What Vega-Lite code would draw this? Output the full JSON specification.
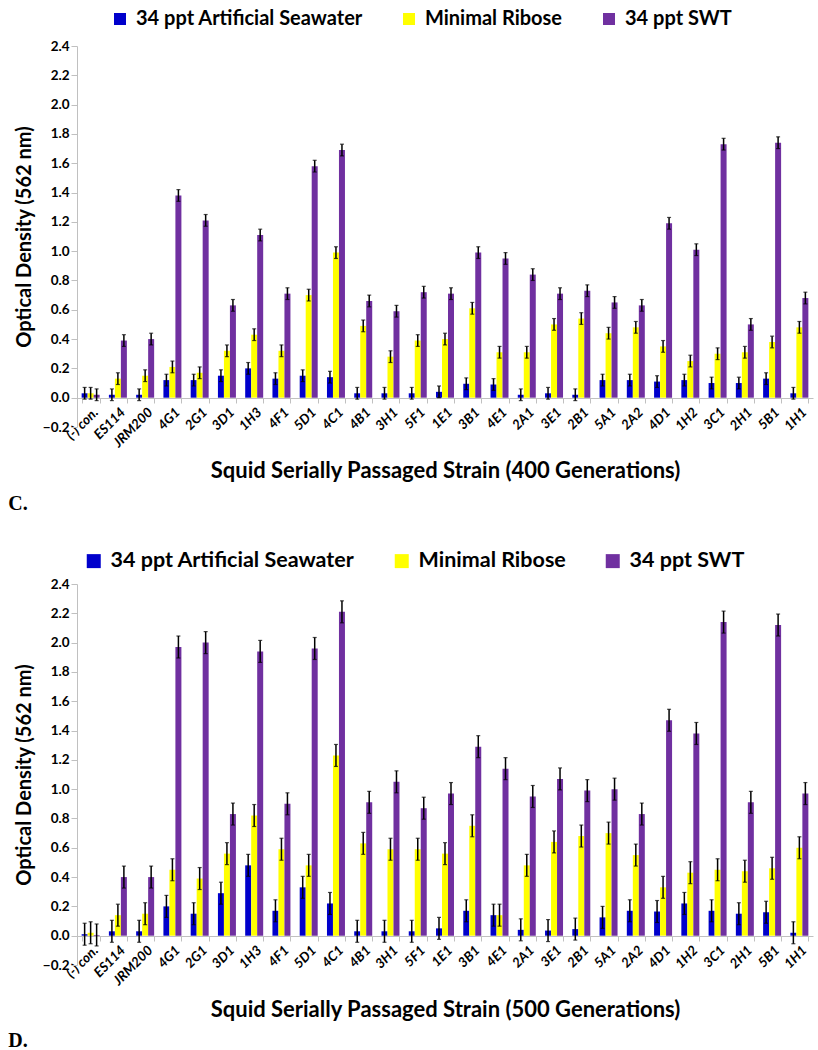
{
  "$schema": "https://vega.github.io/schema/vega-lite/v6.json",
  "background": "white",
  "padding": {"left": 8, "top": 9, "right": 2, "bottom": 2},
  "spacing": 35,
  "config": {
    "font": "Lato",
    "view": {"stroke": null},
    "axis": {"labelFont": "Lato", "titleFont": "Lato", "labelFontWeight": "bold", "titleFontWeight": "bold", "labelColor": "#000000", "titleColor": "#000000", "domainColor": "#c0c0c0", "tickColor": "#c0c0c0", "grid": false, "labelOverlap": false},
    "legend": {"labelFont": "Lato", "labelFontWeight": "bold", "labelColor": "#000000", "labelLimit": 500}
  },
  "datasets": {
    "d": [
      {"p":"C","s":"(-) con.","34 ppt Artificial Seawater":0.03,"Minimal Ribose":0.03,"34 ppt SWT":0.02,"e":0.04},
      {"p":"C","s":"ES114","34 ppt Artificial Seawater":0.02,"Minimal Ribose":0.13,"34 ppt SWT":0.39,"e":0.04},
      {"p":"C","s":"JRM200","34 ppt Artificial Seawater":0.02,"Minimal Ribose":0.15,"34 ppt SWT":0.40,"e":0.04},
      {"p":"C","s":"4G1","34 ppt Artificial Seawater":0.12,"Minimal Ribose":0.21,"34 ppt SWT":1.38,"e":0.04},
      {"p":"C","s":"2G1","34 ppt Artificial Seawater":0.12,"Minimal Ribose":0.17,"34 ppt SWT":1.21,"e":0.04},
      {"p":"C","s":"3D1","34 ppt Artificial Seawater":0.15,"Minimal Ribose":0.32,"34 ppt SWT":0.63,"e":0.04},
      {"p":"C","s":"1H3","34 ppt Artificial Seawater":0.20,"Minimal Ribose":0.43,"34 ppt SWT":1.11,"e":0.04},
      {"p":"C","s":"4F1","34 ppt Artificial Seawater":0.13,"Minimal Ribose":0.32,"34 ppt SWT":0.71,"e":0.04},
      {"p":"C","s":"5D1","34 ppt Artificial Seawater":0.15,"Minimal Ribose":0.70,"34 ppt SWT":1.58,"e":0.04},
      {"p":"C","s":"4C1","34 ppt Artificial Seawater":0.14,"Minimal Ribose":0.99,"34 ppt SWT":1.69,"e":0.04},
      {"p":"C","s":"4B1","34 ppt Artificial Seawater":0.03,"Minimal Ribose":0.49,"34 ppt SWT":0.66,"e":0.04},
      {"p":"C","s":"3H1","34 ppt Artificial Seawater":0.03,"Minimal Ribose":0.28,"34 ppt SWT":0.59,"e":0.04},
      {"p":"C","s":"5F1","34 ppt Artificial Seawater":0.03,"Minimal Ribose":0.39,"34 ppt SWT":0.72,"e":0.04},
      {"p":"C","s":"1E1","34 ppt Artificial Seawater":0.04,"Minimal Ribose":0.40,"34 ppt SWT":0.71,"e":0.04},
      {"p":"C","s":"3B1","34 ppt Artificial Seawater":0.095,"Minimal Ribose":0.61,"34 ppt SWT":0.99,"e":0.04},
      {"p":"C","s":"4E1","34 ppt Artificial Seawater":0.09,"Minimal Ribose":0.31,"34 ppt SWT":0.95,"e":0.04},
      {"p":"C","s":"2A1","34 ppt Artificial Seawater":0.02,"Minimal Ribose":0.31,"34 ppt SWT":0.84,"e":0.04},
      {"p":"C","s":"3E1","34 ppt Artificial Seawater":0.03,"Minimal Ribose":0.50,"34 ppt SWT":0.71,"e":0.04},
      {"p":"C","s":"2B1","34 ppt Artificial Seawater":0.02,"Minimal Ribose":0.54,"34 ppt SWT":0.73,"e":0.04},
      {"p":"C","s":"5A1","34 ppt Artificial Seawater":0.12,"Minimal Ribose":0.44,"34 ppt SWT":0.65,"e":0.04},
      {"p":"C","s":"2A2","34 ppt Artificial Seawater":0.12,"Minimal Ribose":0.48,"34 ppt SWT":0.63,"e":0.04},
      {"p":"C","s":"4D1","34 ppt Artificial Seawater":0.11,"Minimal Ribose":0.35,"34 ppt SWT":1.19,"e":0.04},
      {"p":"C","s":"1H2","34 ppt Artificial Seawater":0.12,"Minimal Ribose":0.25,"34 ppt SWT":1.01,"e":0.04},
      {"p":"C","s":"3C1","34 ppt Artificial Seawater":0.10,"Minimal Ribose":0.30,"34 ppt SWT":1.73,"e":0.04},
      {"p":"C","s":"2H1","34 ppt Artificial Seawater":0.10,"Minimal Ribose":0.31,"34 ppt SWT":0.50,"e":0.04},
      {"p":"C","s":"5B1","34 ppt Artificial Seawater":0.13,"Minimal Ribose":0.38,"34 ppt SWT":1.74,"e":0.04},
      {"p":"C","s":"1H1","34 ppt Artificial Seawater":0.03,"Minimal Ribose":0.48,"34 ppt SWT":0.68,"e":0.04},
      {"p":"D","s":"(-) con.","34 ppt Artificial Seawater":0.01,"Minimal Ribose":0.02,"34 ppt SWT":0.005,"e":0.075},
      {"p":"D","s":"ES114","34 ppt Artificial Seawater":0.03,"Minimal Ribose":0.14,"34 ppt SWT":0.40,"e":0.075},
      {"p":"D","s":"JRM200","34 ppt Artificial Seawater":0.03,"Minimal Ribose":0.15,"34 ppt SWT":0.40,"e":0.075},
      {"p":"D","s":"4G1","34 ppt Artificial Seawater":0.20,"Minimal Ribose":0.45,"34 ppt SWT":1.97,"e":0.075},
      {"p":"D","s":"2G1","34 ppt Artificial Seawater":0.15,"Minimal Ribose":0.39,"34 ppt SWT":2.00,"e":0.075},
      {"p":"D","s":"3D1","34 ppt Artificial Seawater":0.29,"Minimal Ribose":0.56,"34 ppt SWT":0.83,"e":0.075},
      {"p":"D","s":"1H3","34 ppt Artificial Seawater":0.48,"Minimal Ribose":0.82,"34 ppt SWT":1.94,"e":0.075},
      {"p":"D","s":"4F1","34 ppt Artificial Seawater":0.17,"Minimal Ribose":0.59,"34 ppt SWT":0.90,"e":0.075},
      {"p":"D","s":"5D1","34 ppt Artificial Seawater":0.33,"Minimal Ribose":0.48,"34 ppt SWT":1.96,"e":0.075},
      {"p":"D","s":"4C1","34 ppt Artificial Seawater":0.22,"Minimal Ribose":1.23,"34 ppt SWT":2.21,"e":0.075},
      {"p":"D","s":"4B1","34 ppt Artificial Seawater":0.03,"Minimal Ribose":0.63,"34 ppt SWT":0.91,"e":0.075},
      {"p":"D","s":"3H1","34 ppt Artificial Seawater":0.03,"Minimal Ribose":0.59,"34 ppt SWT":1.05,"e":0.075},
      {"p":"D","s":"5F1","34 ppt Artificial Seawater":0.03,"Minimal Ribose":0.59,"34 ppt SWT":0.87,"e":0.075},
      {"p":"D","s":"1E1","34 ppt Artificial Seawater":0.05,"Minimal Ribose":0.56,"34 ppt SWT":0.97,"e":0.075},
      {"p":"D","s":"3B1","34 ppt Artificial Seawater":0.17,"Minimal Ribose":0.75,"34 ppt SWT":1.29,"e":0.075},
      {"p":"D","s":"4E1","34 ppt Artificial Seawater":0.14,"Minimal Ribose":0.14,"34 ppt SWT":1.14,"e":0.075},
      {"p":"D","s":"2A1","34 ppt Artificial Seawater":0.04,"Minimal Ribose":0.48,"34 ppt SWT":0.95,"e":0.075},
      {"p":"D","s":"3E1","34 ppt Artificial Seawater":0.035,"Minimal Ribose":0.64,"34 ppt SWT":1.07,"e":0.075},
      {"p":"D","s":"2B1","34 ppt Artificial Seawater":0.045,"Minimal Ribose":0.68,"34 ppt SWT":0.99,"e":0.075},
      {"p":"D","s":"5A1","34 ppt Artificial Seawater":0.125,"Minimal Ribose":0.70,"34 ppt SWT":1.00,"e":0.075},
      {"p":"D","s":"2A2","34 ppt Artificial Seawater":0.17,"Minimal Ribose":0.55,"34 ppt SWT":0.83,"e":0.075},
      {"p":"D","s":"4D1","34 ppt Artificial Seawater":0.165,"Minimal Ribose":0.33,"34 ppt SWT":1.47,"e":0.075},
      {"p":"D","s":"1H2","34 ppt Artificial Seawater":0.22,"Minimal Ribose":0.43,"34 ppt SWT":1.38,"e":0.075},
      {"p":"D","s":"3C1","34 ppt Artificial Seawater":0.17,"Minimal Ribose":0.45,"34 ppt SWT":2.14,"e":0.075},
      {"p":"D","s":"2H1","34 ppt Artificial Seawater":0.15,"Minimal Ribose":0.44,"34 ppt SWT":0.91,"e":0.075},
      {"p":"D","s":"5B1","34 ppt Artificial Seawater":0.16,"Minimal Ribose":0.46,"34 ppt SWT":2.12,"e":0.075},
      {"p":"D","s":"1H1","34 ppt Artificial Seawater":0.02,"Minimal Ribose":0.60,"34 ppt SWT":0.97,"e":0.075}
    ]
  },
  "resolve": {"legend": {"color": "independent"}},
  "vconcat": [
    {
      "data": {"name": "d"},
      "transform": [
        {"filter": "datum.p === 'C'"},
        {"fold": ["34 ppt Artificial Seawater", "Minimal Ribose", "34 ppt SWT"], "as": ["g", "v"]}
      ],
      "width": 736,
      "height": 381,
      "title": {"text": "C.", "orient": "bottom", "anchor": "start", "font": "Liberation Serif", "fontSize": 20, "fontWeight": "bold", "color": "#000000", "offset": 13, "dx": -6},
      "encoding": {
        "x": {"field": "s", "type": "nominal", "sort": ["(-) con.","ES114","JRM200","4G1","2G1","3D1","1H3","4F1","5D1","4C1","4B1","3H1","5F1","1E1","3B1","4E1","2A1","3E1","2B1","5A1","2A2","4D1","1H2","3C1","2H1","5B1","1H1"],
          "scale": {"paddingInner": 0.34, "paddingOuter": 0.17},
          "axis": {"title": "Squid Serially Passaged Strain (400 Generations)", "titleFontSize": 22, "titlePadding": 11, "labelAngle": -45, "labelFontSize": 13.5, "labelFontStyle": "italic", "labelPadding": 2, "tickBand": "extent", "tickSize": 5, "offset": -29}},
        "xOffset": {"field": "g", "type": "nominal", "sort": ["34 ppt Artificial Seawater", "Minimal Ribose", "34 ppt SWT"]}
      },
      "layer": [
        {
          "mark": {"type": "bar"},
          "encoding": {
            "y": {"field": "v", "type": "quantitative", "title": "Optical Density (562 nm)", "scale": {"domain": [-0.2, 2.4], "nice": false},
              "axis": {"titleFontSize": 20, "titlePadding": 8, "labelFontSize": 13.5, "format": ".1f", "tickSize": 6, "labelOverlap": false, "labelFlush": false, "values": [-0.2, 0, 0.2, 0.4, 0.6, 0.8, 1.0, 1.2, 1.4, 1.6, 1.8, 2.0, 2.2, 2.4]}},
            "color": {"field": "g", "type": "nominal",
              "scale": {"domain": ["34 ppt Artificial Seawater", "Minimal Ribose", "34 ppt SWT"], "range": ["#0000CC", "#FFFF00", "#7030A0"]},
              "legend": {"title": null, "orient": "none", "direction": "horizontal", "legendX": 33, "legendY": -37, "symbolType": "square", "symbolSize": 144, "symbolStrokeWidth": 0, "labelFontSize": 20, "labelOffset": 6, "columnPadding": 36}}
          }
        },
        {
          "mark": {"type": "errorbar", "ticks": {"size": 4, "thickness": 1.2}, "color": "#000000", "thickness": 1.5},
          "encoding": {
            "y": {"field": "v", "type": "quantitative", "title": "Optical Density (562 nm)",
              "axis": {"titleFontSize": 20, "titlePadding": 8, "labelFontSize": 13.5, "format": ".1f", "tickSize": 6, "labelOverlap": false, "labelFlush": false, "values": [-0.2, 0, 0.2, 0.4, 0.6, 0.8, 1.0, 1.2, 1.4, 1.6, 1.8, 2.0, 2.2, 2.4]}},
            "yError": {"field": "e"}
          }
        }
      ]
    },
    {
      "data": {"name": "d"},
      "transform": [
        {"filter": "datum.p === 'D'"},
        {"fold": ["34 ppt Artificial Seawater", "Minimal Ribose", "34 ppt SWT"], "as": ["g", "v"]}
      ],
      "width": 736,
      "height": 381,
      "title": {"text": "D.", "orient": "bottom", "anchor": "start", "font": "Liberation Serif", "fontSize": 20, "fontWeight": "bold", "color": "#000000", "offset": 11, "dx": -6},
      "encoding": {
        "x": {"field": "s", "type": "nominal", "sort": ["(-) con.","ES114","JRM200","4G1","2G1","3D1","1H3","4F1","5D1","4C1","4B1","3H1","5F1","1E1","3B1","4E1","2A1","3E1","2B1","5A1","2A2","4D1","1H2","3C1","2H1","5B1","1H1"],
          "scale": {"paddingInner": 0.34, "paddingOuter": 0.17},
          "axis": {"title": "Squid Serially Passaged Strain (500 Generations)", "titleFontSize": 22, "titlePadding": 12, "labelAngle": -45, "labelFontSize": 13.5, "labelFontStyle": "italic", "labelPadding": 2, "tickBand": "extent", "tickSize": 5, "offset": -29}},
        "xOffset": {"field": "g", "type": "nominal", "sort": ["34 ppt Artificial Seawater", "Minimal Ribose", "34 ppt SWT"]}
      },
      "layer": [
        {
          "mark": {"type": "bar"},
          "encoding": {
            "y": {"field": "v", "type": "quantitative", "title": "Optical Density (562 nm)", "scale": {"domain": [-0.2, 2.4], "nice": false},
              "axis": {"titleFontSize": 20, "titlePadding": 8, "labelFontSize": 13.5, "format": ".1f", "tickSize": 6, "labelOverlap": false, "labelFlush": false, "values": [-0.2, 0, 0.2, 0.4, 0.6, 0.8, 1.0, 1.2, 1.4, 1.6, 1.8, 2.0, 2.2, 2.4]}},
            "color": {"field": "g", "type": "nominal",
              "scale": {"domain": ["34 ppt Artificial Seawater", "Minimal Ribose", "34 ppt SWT"], "range": ["#0000CC", "#FFFF00", "#7030A0"]},
              "legend": {"title": null, "orient": "none", "direction": "horizontal", "legendX": 6, "legendY": -34, "symbolType": "square", "symbolSize": 196, "symbolStrokeWidth": 0, "labelFontSize": 21.5, "labelOffset": 6, "columnPadding": 36}}
          }
        },
        {
          "mark": {"type": "errorbar", "ticks": {"size": 4, "thickness": 1.2}, "color": "#000000", "thickness": 1.5},
          "encoding": {
            "y": {"field": "v", "type": "quantitative", "title": "Optical Density (562 nm)",
              "axis": {"titleFontSize": 20, "titlePadding": 8, "labelFontSize": 13.5, "format": ".1f", "tickSize": 6, "labelOverlap": false, "labelFlush": false, "values": [-0.2, 0, 0.2, 0.4, 0.6, 0.8, 1.0, 1.2, 1.4, 1.6, 1.8, 2.0, 2.2, 2.4]}},
            "yError": {"field": "e"}
          }
        }
      ]
    }
  ]
}
